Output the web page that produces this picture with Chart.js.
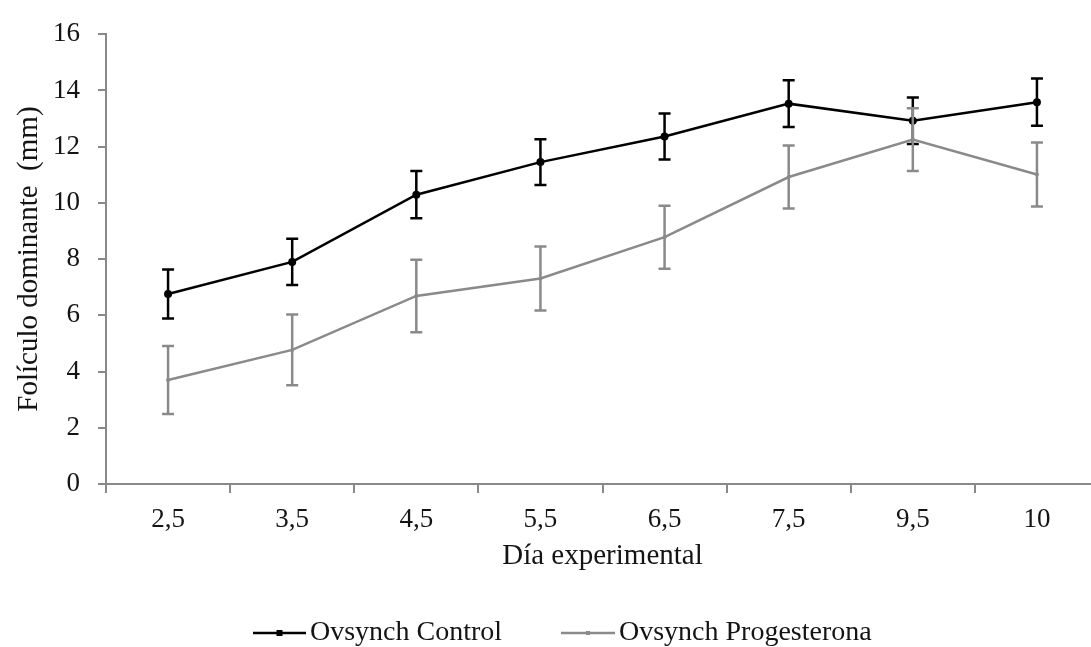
<!DOCTYPE html>
<html>
<head>
<meta charset="utf-8">
<script src="https://cdn.jsdelivr.net/npm/chart.js@4.4.1/dist/chart.umd.min.js"></script>
<style>
  html, body { margin: 0; padding: 0; background: #ffffff; overflow: hidden; }
  #wrap { position: relative; width: 1110px; height: 647px; }
</style>
</head>
<body>
<div id="wrap"><canvas id="c" width="1110" height="647"></canvas></div>
<script>
// ---- data ----
const categories = ['2,5', '3,5', '4,5', '5,5', '6,5', '7,5', '9,5', '10'];
const controlLabel = 'Ovsynch Control';
const progLabel = 'Ovsynch Progesterona';
const controlValues = [6.76, 7.90, 10.29, 11.45, 12.36, 13.53, 12.92, 13.58];
const controlErr    = [0.87, 0.82, 0.84, 0.81, 0.82, 0.83, 0.83, 0.84];
const progValues    = [3.70, 4.77, 6.69, 7.31, 8.78, 10.92, 12.25, 11.01];
const progErr       = [1.21, 1.26, 1.29, 1.14, 1.12, 1.12, 1.12, 1.14];
const yTicks = [0, 2, 4, 6, 8, 10, 12, 14, 16];
const xTitle = 'Día experimental';
const yTitle = 'Folículo dominante  (mm)';

const FONT = "'Liberation Serif', 'Times New Roman', serif";
const AXIS = '#898989';
const TEXT = '#141414';
const BLACK = '#000000';
const GRAY = '#8a8a8a';

const errorBars = {
  id: 'errorBars',
  afterDatasetDraw(chart, args) {
    const ds = chart.data.datasets[args.index];
    if (!ds.errors) return;
    const ctx = chart.ctx;
    const y = chart.scales.y;
    ctx.save();
    ctx.strokeStyle = ds.borderColor;
    ctx.lineWidth = ds.errorWidth;
    ctx.lineCap = 'butt';
    args.meta.data.forEach((pt, i) => {
      const v = ds.data[i], e = ds.errors[i];
      const yt = y.getPixelForValue(v + e);
      const yb = y.getPixelForValue(v - e);
      const x = pt.x;
      ctx.beginPath();
      ctx.moveTo(x, yt); ctx.lineTo(x, yb);
      ctx.moveTo(x - 6, yt); ctx.lineTo(x + 6, yt);
      ctx.moveTo(x - 6, yb); ctx.lineTo(x + 6, yb);
      ctx.stroke();
    });
    ctx.restore();
  }
};

const customLegend = {
  id: 'customLegend',
  afterDraw(chart) {
    const ctx = chart.ctx;
    const items = [
      { ds: chart.data.datasets[1], x: 253, len: 53 },
      { ds: chart.data.datasets[0], x: 561, len: 54 }
    ];
    const yy = 633;
    ctx.save();
    items.forEach(it => {
      const ds = it.ds;
      ctx.strokeStyle = ds.borderColor;
      ctx.lineWidth = ds.borderWidth;
      ctx.beginPath();
      ctx.moveTo(it.x, yy); ctx.lineTo(it.x + it.len, yy);
      ctx.stroke();
      ctx.fillStyle = ds.borderColor;
      const r = ds.legendMarker;
      ctx.fillRect(it.x + it.len / 2 - r, yy - r, 2 * r, 2 * r);
      ctx.fillStyle = TEXT;
      ctx.font = '28px ' + FONT;
      ctx.textBaseline = 'middle';
      ctx.textAlign = 'left';
      ctx.fillText(ds.label, it.x + it.len + 4, yy);
    });
    ctx.restore();
  }
};

new Chart(document.getElementById('c'), {
  type: 'line',
  data: {
    labels: categories,
    datasets: [
      {
        label: progLabel,
        data: progValues,
        errors: progErr,
        errorWidth: 2.5,
        borderColor: GRAY,
        backgroundColor: GRAY,
        borderWidth: 2.5,
        pointRadius: 2,
        pointStyle: 'circle',
        pointBorderWidth: 0,
        legendMarker: 2,
        tension: 0,
        order: 0
      },
      {
        label: controlLabel,
        data: controlValues,
        errors: controlErr,
        errorWidth: 2.5,
        borderColor: BLACK,
        backgroundColor: BLACK,
        borderWidth: 2.5,
        pointRadius: 4,
        pointStyle: 'circle',
        pointBorderWidth: 0,
        legendMarker: 3,
        tension: 0,
        order: 1
      }
    ]
  },
  options: {
    responsive: false,
    animation: false,
    devicePixelRatio: 1,
    layout: { padding: { top: 27, right: 11, bottom: 0, left: 0 } },
    plugins: {
      legend: { display: false },
      tooltip: { enabled: false }
    },
    scales: {
      x: {
        type: 'category',
        offset: true,
        grid: {
          offset: true,
          drawOnChartArea: false,
          drawTicks: true,
          tickLength: 9,
          color: AXIS,
          lineWidth: 2
        },
        border: { display: true, color: AXIS, width: 2 },
        ticks: {
          color: TEXT,
          font: { family: FONT, size: 27 },
          padding: 11,
          maxRotation: 0,
          autoSkip: false
        },
        title: {
          display: true,
          text: xTitle,
          color: TEXT,
          font: { family: FONT, size: 29 },
          padding: { top: 0, bottom: 73 }
        },
        afterFit(scale) { scale.height = 163; }
      },
      y: {
        min: 0,
        max: 16,
        afterBuildTicks(scale) { scale.ticks = yTicks.map(v => ({ value: v })); },
        grid: {
          drawOnChartArea: false,
          drawTicks: true,
          tickLength: 8,
          color: AXIS,
          lineWidth: 2
        },
        border: { display: true, color: AXIS, width: 2 },
        ticks: {
          color: TEXT,
          font: { family: FONT, size: 27 },
          padding: 18
        },
        title: {
          display: true,
          text: yTitle,
          color: TEXT,
          font: { family: FONT, size: 29 },
          padding: { top: 12, bottom: 0 }
        },
        afterFit(scale) { scale.width = 106; }
      }
    }
  },
  plugins: [errorBars, customLegend]
});
</script>
</body>
</html>
